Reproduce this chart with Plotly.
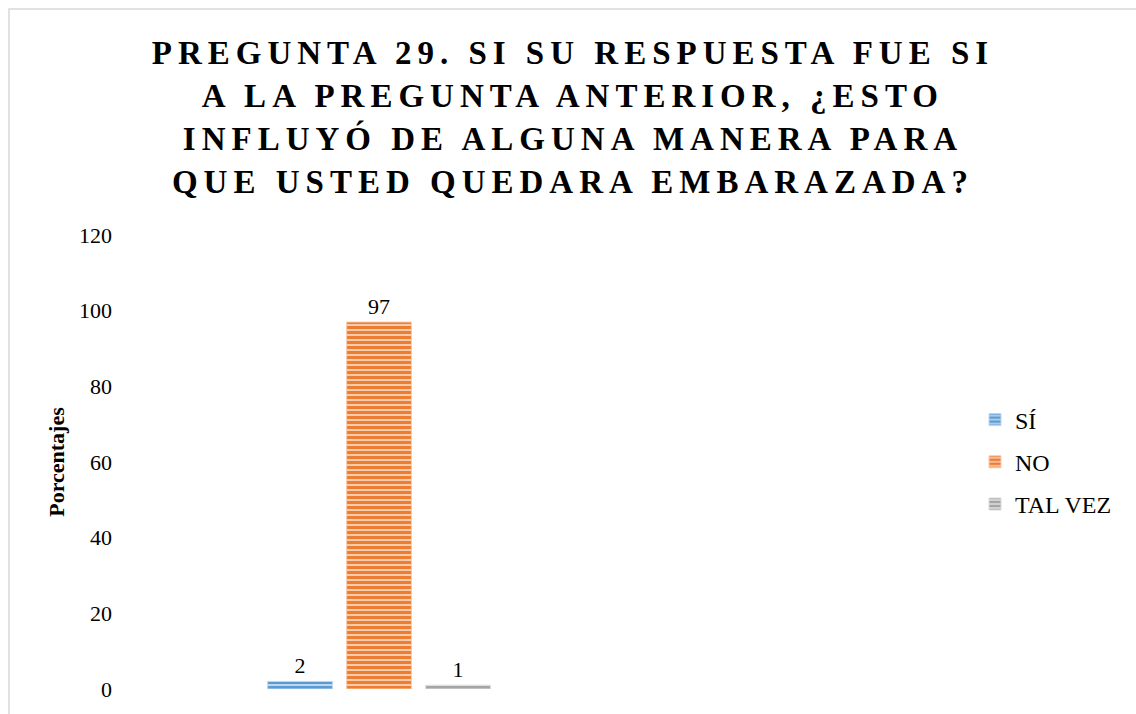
import plotly.graph_objects as go

# datos
respuestas = ["SÍ", "NO", "TAL VEZ"]
porcentajes = [2, 97, 1]
categoria = [0]

colores = ["#5B9BD5", "#ED7D31", "#A5A5A5"]
fondos = ["#BDD7EE", "#F8CBAD", "#DBDBDB"]

fig = go.Figure()
for nombre, valor, color, fondo in zip(respuestas, porcentajes, colores, fondos):
    fig.add_trace(go.Bar(
        x=categoria,
        y=[valor],
        name=nombre,
        legendgroup=nombre,
        text=[valor],
        textposition="outside",
        textfont=dict(family="Liberation Serif", size=22, color="#000000"),
        cliponaxis=False,
        marker=dict(
            color=fondo,
            line=dict(color=fondo, width=1),
            pattern=dict(shape="-", fgcolor=color, bgcolor=fondo,
                         fillmode="replace", size=5, solidity=0.6),
        ),
        hovertemplate=nombre + ": %{y}%<extra></extra>",
    ))

titulo = ("PREGUNTA 29. SI SU RESPUESTA FUE SI<br>"
          "A LA PREGUNTA ANTERIOR, ¿ESTO<br>"
          "INFLUYÓ DE ALGUNA MANERA PARA<br>"
          "QUE USTED QUEDARA EMBARAZADA?")

fig.update_layout(
    width=1136,
    height=714,
    margin=dict(l=125, r=161, t=235, b=25),
    paper_bgcolor="white",
    plot_bgcolor="white",
    font=dict(family="Liberation Serif", size=22, color="#000000"),
    title=dict(
        text="<b>" + titulo + "</b>",
        x=0.527, xref="paper", xanchor="center",
        y=0.91, yref="container", yanchor="middle",
        font=dict(family="Liberation Serif", size=33, color="#000000"),
    ),
    barmode="group",
    bargap=0,
    bargroupgap=0.18,
    showlegend=True,
    legend=dict(
        x=1.0, xanchor="left", y=0.5, yanchor="middle",
        font=dict(family="Liberation Serif", size=24, color="#000000"),
        bgcolor="rgba(0,0,0,0)",
        tracegroupgap=8,
    ),
    xaxis=dict(
        range=[-1.072, 2.515],
        showticklabels=False, showgrid=False, zeroline=False,
        showline=False, ticks="",
    ),
    yaxis=dict(
        range=[0, 120],
        tickvals=[0, 20, 40, 60, 80, 100, 120],
        showgrid=False, zeroline=False, showline=False, ticks="",
        ticklabelstandoff=12,
        tickfont=dict(family="Liberation Serif", size=22, color="#000000"),
        title=dict(text="<b>Porcentajes</b>", standoff=8,
                   font=dict(family="Liberation Serif", size=22, color="#000000")),
    ),
    shapes=[dict(
        type="rect", xref="paper", yref="paper",
        x0=-0.1365, x1=1.25, y0=-0.1, y1=1.4978,
        line=dict(color="#D9D9D9", width=1.5),
        fillcolor="rgba(0,0,0,0)", layer="below",
    )],
)

post = """
document.body.style.margin = '0';
var s = document.createElement('style');
s.innerHTML = '.gtitle { letter-spacing: 6px; }';
document.head.appendChild(s);
"""

fig.write_html("out.html", post_script=post, config={"displayModeBar": False})
